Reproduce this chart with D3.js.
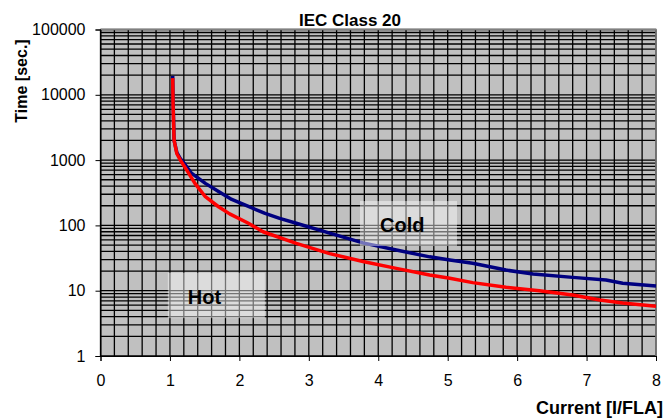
<!DOCTYPE html>
<html>
<head>
<meta charset="utf-8">
<script src="https://cdn.jsdelivr.net/npm/d3@7/dist/d3.min.js"></script>
<style>
  html, body { margin: 0; padding: 0; background: #ffffff; }
  svg { display: block; font-family: "Liberation Sans", Arial, sans-serif; }
</style>
</head>
<body>
<svg id="chart" width="666" height="420"></svg>
<script>
// ---- data ----
const titleText = "IEC Class 20";
const xLabel = "Current [I/FLA]";
const yLabel = "Time [sec.]";
const xTickValues = [0, 1, 2, 3, 4, 5, 6, 7, 8];
const yTickValues = [1, 10, 100, 1000, 10000, 100000];

const coldCurrent = [1.04, 1.045, 1.06, 1.10, 1.15, 1.22, 1.31, 1.51, 1.70, 1.89, 2.13, 2.37, 2.58, 2.82, 3.30, 3.78, 4.26, 4.74, 5.03, 5.36, 5.84, 6.23, 6.80, 7.28, 7.52, 8.0];
const coldTime    = [19500, 8000, 2000, 1300, 1050, 850, 630, 440, 330, 250, 195, 153, 128, 108, 76, 54, 42, 33, 29.5, 26.3, 20.7, 18, 16, 14.6, 13, 11.8];

const hotCurrent = [1.04, 1.045, 1.06, 1.10, 1.15, 1.24, 1.36, 1.51, 1.70, 1.86, 2.13, 2.34, 2.82, 3.30, 3.78, 4.26, 4.74, 5.03, 5.36, 5.84, 6.32, 6.80, 7.19, 7.52, 8.0];
const hotTime    = [18000, 7000, 2000, 1250, 1000, 708, 441, 275, 193, 150, 108, 80, 53, 37, 28, 22, 17.4, 15.5, 13.3, 11.3, 10, 8.6, 7.2, 6.5, 5.8];

const seriesLabels = ["Cold", "Hot"];

// ---- layout ----
const svg = d3.select("#chart");
const pLeft = 100.5, pRight = 656, pTop = 29.5, pBottom = 356;

const x = d3.scaleLinear().domain([0, 8]).range([pLeft, pRight]);
const y = d3.scaleLog().domain([1, 100000]).range([pBottom, pTop]);

// plot background
svg.append("rect")
  .attr("x", pLeft).attr("y", pTop)
  .attr("width", pRight - pLeft).attr("height", pBottom - pTop)
  .attr("fill", "#c0c0c0");

// grid lines
const grid = svg.append("g").attr("stroke", "#000").attr("stroke-width", 1.3);
grid.selectAll("line.v")
  .data(d3.range(0, 8.0001, 0.2))
  .join("line").attr("class", "v")
  .attr("x1", d => x(d)).attr("x2", d => x(d))
  .attr("y1", pTop).attr("y2", pBottom);
grid.selectAll("line.h")
  .data(y.ticks())
  .join("line").attr("class", "h")
  .attr("x1", pLeft).attr("x2", pRight)
  .attr("y1", d => y(d)).attr("y2", d => y(d));

// plot border (top/right gray)
svg.append("path")
  .attr("d", `M${pLeft},${pTop}H${pRight}V${pBottom}`)
  .attr("fill", "none").attr("stroke", "#808080").attr("stroke-width", 1.5);

// lines
const line = d3.line().x(d => x(d[0])).y(d => y(d[1]));
const coldData = coldCurrent.map((c, i) => [c, coldTime[i]]);
const hotData = hotCurrent.map((c, i) => [c, hotTime[i]]);

svg.append("path").datum(coldData)
  .attr("d", line).attr("fill", "none")
  .attr("stroke", "#000080").attr("stroke-width", 3.5).attr("stroke-linejoin", "round");
svg.append("path").datum(hotData)
  .attr("d", line).attr("fill", "none")
  .attr("stroke", "#ff0000").attr("stroke-width", 3.5).attr("stroke-linejoin", "round");

// axes
const xAxis = d3.axisBottom(x).tickValues(xTickValues).tickSize(5).tickPadding(14).tickFormat(d3.format("d"));
const gx = svg.append("g").attr("transform", `translate(0,${pBottom})`).call(xAxis);
gx.select(".domain").attr("stroke", "#000");
gx.selectAll("text").attr("font-size", 16).attr("fill", "#000")
  .attr("font-family", "'Liberation Sans', Arial, sans-serif");

const yAxis = d3.axisLeft(y).tickValues(yTickValues).tickSize(5).tickPadding(10).tickFormat(d3.format("d"));
const gy = svg.append("g").attr("transform", `translate(${pLeft},0)`).call(yAxis);
gy.select(".domain").attr("stroke", "#000");
gy.selectAll("text").attr("font-size", 16).attr("fill", "#000")
  .attr("font-family", "'Liberation Sans', Arial, sans-serif");

// series label boxes (drawn over lines)
const labelBoxes = [
  { text: seriesLabels[0], bx: 3.737, by: 236, w: 97, h: 45 },
  { text: seriesLabels[1], bx: 0.97, by: 18.9, w: 97, h: 45.5 }
];
labelBoxes.forEach(b => {
  const px = x(b.bx), py = y(b.by);
  svg.append("rect")
    .attr("x", px).attr("y", py)
    .attr("width", b.w).attr("height", b.h)
    .attr("fill", "#ffffff").attr("fill-opacity", 0.45);
  svg.append("text")
    .attr("x", px + 20).attr("y", py + 31)
    .attr("font-size", 20).attr("font-weight", "bold").attr("fill", "#000")
    .text(b.text);
});

// title
svg.append("text")
  .attr("x", 350).attr("y", 26)
  .attr("text-anchor", "middle")
  .attr("font-size", 17).attr("font-weight", "bold")
  .text(titleText);

// axis titles
svg.append("text")
  .attr("x", 663).attr("y", 414)
  .attr("text-anchor", "end")
  .attr("font-size", 18).attr("font-weight", "bold")
  .text(xLabel);

svg.append("text")
  .attr("transform", "translate(27,81) rotate(-90)")
  .attr("text-anchor", "middle")
  .attr("font-size", 16).attr("font-weight", "bold")
  .text(yLabel);
</script>
</body>
</html>
